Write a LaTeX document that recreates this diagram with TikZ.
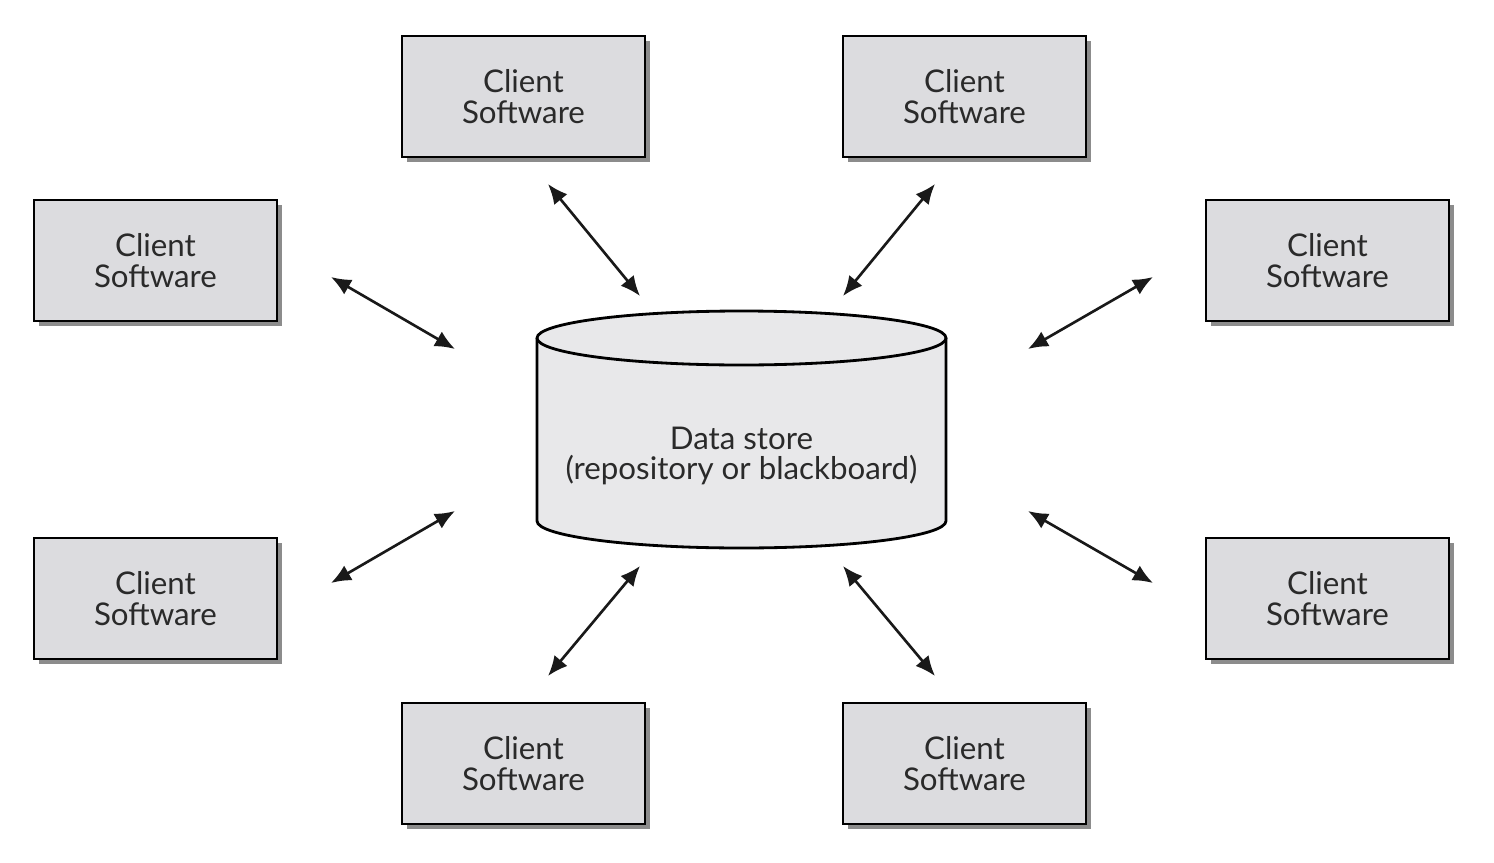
\documentclass[tikz,border=0pt]{standalone}
\usepackage{fontspec}
\setmainfont{Lato}
\usetikzlibrary{arrows.meta,shadows}
\definecolor{boxgray}{HTML}{DCDCDF}
\definecolor{storegray}{HTML}{E8E8EA}
\definecolor{shadowgray}{HTML}{8C8C8C}
\definecolor{inkgray}{HTML}{2A2A2A}
\tikzset{
  client/.style={draw=black, line width=1.6pt, fill=boxgray, minimum width=4.86cm, minimum height=2.42cm,
    align=center, text=inkgray, font=\fontsize{17.8}{17.6}\selectfont,
    execute at begin node={\rule{0pt}{16.7pt}},
    drop shadow={shadow xshift=0.1cm, shadow yshift=-0.1cm, fill=shadowgray, opacity=1}},
  link/.style={{Latex[length=0.4cm,width=0.34cm]}-{Latex[length=0.4cm,width=0.34cm]}, line width=1.5pt, draw=black!90}
}
\begin{document}
\begin{tikzpicture}[x=0.02cm,y=-0.02cm]
                \useasboundingbox (0,0) rectangle (1494,862);
                % clients
                \node[client](C1) at (523.5,96.5) {Client\\Software};
                \node[client](C2) at (964.5,96.5) {Client\\Software};
                \node[client](C3) at (155.5,260.5) {Client\\Software};
                \node[client](C4) at (1327.5,260.5) {Client\\Software};
                \node[client](C5) at (155.5,598.5) {Client\\Software};
                \node[client](C6) at (1327.5,598.5) {Client\\Software};
                \node[client](C7) at (523.5,763.5) {Client\\Software};
                \node[client](C8) at (964.5,763.5) {Client\\Software};
                % data store
                \filldraw[fill=storegray, line width=1.6pt] (537,338) -- (537,521)
                    arc[start angle=180, end angle=0, x radius=204.5, y radius=27] -- (946,338);
                \filldraw[fill=storegray, line width=1.6pt] (741.5,338) ellipse[x radius=204.5, y radius=27];
                \node[align=center, text=inkgray, font=\fontsize{17.8}{17.6}\selectfont](S) at (741.5,456)
                    {Data store\\(repository or blackboard)};
                % arrow ends
                \coordinate (a1) at (331,277);  \coordinate (b1) at (455,349);
                \coordinate (a2) at (548,184);  \coordinate (b2) at (640,296);
                \coordinate (a3) at (935,184);  \coordinate (b3) at (843,296);
                \coordinate (a4) at (1153,277); \coordinate (b4) at (1028,349);
                \coordinate (a5) at (331,583);  \coordinate (b5) at (455,511);
                \coordinate (a6) at (548,676);  \coordinate (b6) at (640,566);
                \coordinate (a7) at (935,676);  \coordinate (b7) at (843,566);
                \coordinate (a8) at (1153,583); \coordinate (b8) at (1028,511);
                \draw[link](a1)--(b1);
                \draw[link](a2)--(b2);
                \draw[link](a3)--(b3);
                \draw[link](a4)--(b4);
                \draw[link](a5)--(b5);
                \draw[link](a6)--(b6);
                \draw[link](a7)--(b7);
                \draw[link](a8)--(b8);
\end{tikzpicture}
\end{document}
